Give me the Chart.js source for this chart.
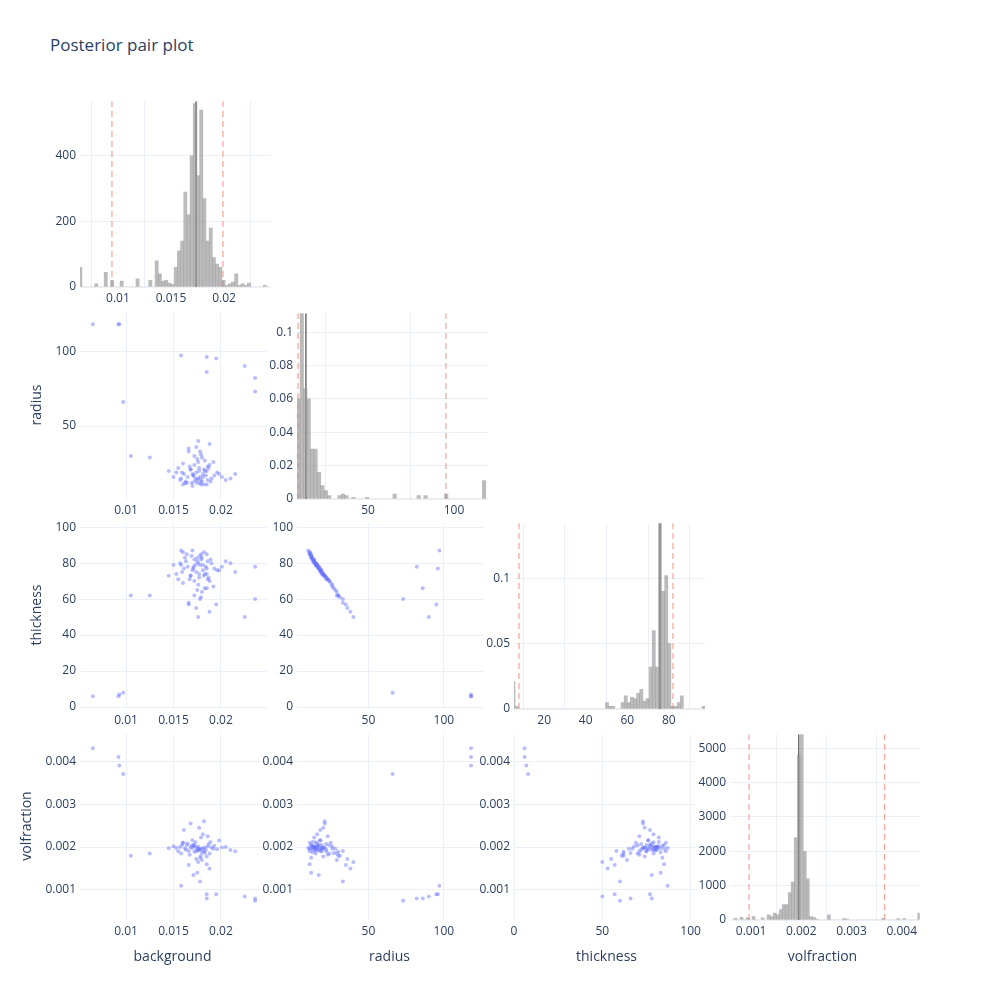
<!DOCTYPE html>
<html>
<head>
<meta charset="utf-8">
<script src="https://cdn.jsdelivr.net/npm/chart.js@4"></script>
<style>
body{margin:0;background:#fff;font-family:"Open Sans",Arial,sans-serif;color:#2a3f5f;}
#page{position:relative;width:1000px;height:1000px;}
.panel{position:absolute;}
.lbl{position:absolute;font-size:14px;white-space:nowrap;}
</style>
</head>
<body>
<div id="page">
  <div class="lbl" style="left:50px;top:33px;font-size:17px;">Posterior pair plot</div>
</div>
<script>
const params = ['background', 'radius', 'thickness', 'volfraction'];

// posterior samples (one entry per sample)
const background = [.0065,.0092,.0093,.0097,.0158,.0185,.0185,.0195,.0225,.0236,.0236,.0105,.0125,
 .0175,.0178,.0172,.0181,.0169,.0176,.0183,.0171,.0179,.0174,.0186,.0165,.0177,.0180,.0168,.0173,.0184,.0162,.0188,.0170,
 .0176,.0182,.0159,.0190,.0167,.0175,.0179,.0185,.0163,.0172,.0193,.0160,.0178,.0187,.0166,.0181,.0157,.0196,.0174,.0170,
 .0183,.0161,.0189,.0176,.0168,.0201,.0155,.0179,.0185,.0172,.0198,.0158,.0188,.0177,.0164,.0192,.0171,.0205,.0153,.0180,
 .0186,.0166,.0210,.0150,.0175,.0182,.0215,.0145,.0178,.0160];
const radius = [118,118,118,66,97,96,86,95,90,82,73,30,29,
 14,16,13,18,12,15,20,17,11,19,14,16,22,13,21,15,17,12,24,18,
 26,11,19,15,23,28,14,20,13,30,17,25,12,22,33,16,14,19,36,10,
 27,18,13,40,21,16,22,31,11,24,18,15,38,20,12,26,17,14,19,29,
 23,35,15,16,12,21,18,20,33,11];
const thickness = [6,6,7,8,87,77,66,57,50,78,60,62,62,
 81,79,82,76,84,80,74,77,85,75,81,78,72,83,73,79,78,83,70,76,
 68,86,75,80,71,65,82,74,81,62,77,69,84,72,58,79,80,76,55,87,
 66,77,82,50,73,78,71,61,85,70,76,79,53,74,85,67,78,81,74,64,
 71,57,80,79,83,73,75,73,60,86];
const volfraction = [.0043,.0041,.0039,.0037,.0011,.0009,.0008,.0009,.00085,.0008,.00075,.0018,.00185,
 .00198,.00195,.00201,.00197,.00203,.00192,.00199,.00205,.00196,.00190,.00202,.00208,.00194,.00188,.00199,.00211,.00193,.00197,.00185,.00216,
 .00201,.00190,.00205,.00199,.00182,.00196,.00222,.00178,.00194,.00189,.00203,.00210,.00175,.00207,.00191,.00230,.00200,.00195,.00172,.00198,
 .00186,.00240,.00212,.00165,.00255,.00199,.00190,.00180,.00160,.00204,.00215,.00185,.00150,.00245,.00205,.00196,.00135,.00200,.00198,.00170,
 .00225,.00158,.00193,.00202,.00140,.00260,.00190,.00197,.00120,.00210];

// histogram bins (start, width, heights)
const bgBinStart = 0.0063, bgBinWidth = 0.0003;
const bgCounts = [60,0,0,0,0,10,0,0,45,0,20,0,0,18,0,0,0,0,25,0,0,0,20,0,80,40,18,20,12,8,
 60,110,140,290,220,400,560,340,540,270,140,180,90,70,60,20,5,10,15,40,5,10,5,12,0,0,0,0,5,0];
const radBinStart = 8.5, radBinWidth = 2;
const radDensity = [0.06,0.112,0.066,0.06,0.03,0.03,0.016,0.008,0.005,0.002,0,0,0.002,0.003,0.002,0,0.001,0,0,0,
 0.001,0,0,0,0,0,0,0,0.003,0,0,0,0,0,0,0.002,0,0.002,0,0,0,0,0,0.003,0,0,0,0,0,0,0,0,0,0,0.011,0];
const thkBinStart = 4.5, thkBinWidth = 1.5;
const thkDensity = [0.021,0.002,0,0,0,0,0,0,0,0,0,0,0,0,0,0,0,0,0,0,0,0,0,0,0,0,0,0,0,0,
 0.005,0.002,0.002,0,0,0.005,0.01,0.005,0.009,0.008,0.012,0.015,0.006,0.008,0.032,0.06,0.032,0.142,0.09,0.102,
 0.05,0.002,0.002,0.005,0.01,0,0,0,0,0,0,0.002];
const volBinStart = 0.0006, volBinWidth = 0.00006;
const volCounts = [0,50,0,80,0,70,0,100,0,0,60,0,150,100,200,150,300,450,450,800,1100,2400,4800,5400,2000,1200,100,80,30,0,
 0,0,150,0,0,0,0,40,30,0,0,0,0,0,0,0,0,0,0,0,50,0,0,0,0,40,0,40,0,0,0,0,200];

// median and 95% interval markers
const medians = [0.01736, 13.9, 75.7, 0.00195];
const lowQ = [0.00943, 9.3, 7.9, 0.00096];
const highQ = [0.0199, 95.3, 82.0, 0.00366];

// tick labels
const histXTicks = [[0.01, 0.015, 0.02], [50, 100], [20, 40, 60, 80], [0.001, 0.002, 0.003, 0.004]];
const scatXTicks = [[0.01, 0.015, 0.02], [50, 100], [0, 50, 100]];
const scatYTicks = [null, [50, 100], [0, 20, 40, 60, 80, 100], [0.001, 0.002, 0.003, 0.004]];
const histYTicks = [[0, 200, 400], [0, 0.02, 0.04, 0.06, 0.08, 0.1], [0, 0.05, 0.1], [0, 1000, 2000, 3000, 4000, 5000]];

const samples = [background, radius, thickness, volfraction];
const hists = [
  [bgBinStart, bgBinWidth, bgCounts],
  [radBinStart, radBinWidth, radDensity],
  [thkBinStart, thkBinWidth, thkDensity],
  [volBinStart, volBinWidth, volCounts]
];

// layout
const colLeft = [80, 297, 514, 730], rowTop = [100, 312, 522, 733];
const plotW = 191, plotH = 187, padL = 45, padB = 22, padT = 10;
const histRange = [[0.00642, 0.02443], [8.7, 119.8], [5.5, 97.4], [0.00058, 0.00436]];
const histTop = [567, 0.1114, 0.142, 5407];
const scatRange = [[0.00515, 0.02485], [2.6, 126.6], [0, 102.7], [0.0003, 0.00463]];
const scatYRange = [null, [1.3, 125.3], [-1.1, 102.2], [0.0003, 0.00463]];

const textColor = '#2a3f5f', gridColor = '#EBF0F8';

function fmt(v) { return String(+v.toPrecision(6)); }

function axis(min, max, ticks, fit) {
  return {
    type: 'linear', min: min, max: max, offset: false,
    border: { display: false },
    grid: { color: gridColor, drawTicks: false },
    ticks: { color: textColor, font: { size: 12, family: 'Open Sans' }, padding: 4, autoSkip: false,
      maxRotation: 0, callback: v => fmt(v) },
    afterBuildTicks: s => { s.ticks = ticks.map(v => ({ value: v })); },
    afterFit: fit
  };
}

function makePanel(row, col) {
  const div = document.createElement('div');
  div.className = 'panel';
  div.style.left = (colLeft[col] - padL) + 'px';
  div.style.top = (rowTop[row] - padT) + 'px';
  div.style.width = (plotW + padL) + 'px';
  div.style.height = (plotH + padB + padT) + 'px';
  const cv = document.createElement('canvas');
  div.appendChild(cv);
  document.getElementById('page').appendChild(div);
  return cv;
}

const fitY = s => { s.width = padL; };
const fitX = s => { s.height = padB; };

function vline(x, top, color, dash) {
  return { type: 'line', data: [{ x: x, y: 0 }, { x: x, y: top }], borderColor: color, borderWidth: 1.3,
    borderDash: dash, pointRadius: 0, fill: false };
}

for (let row = 0; row < 4; row++) {
  for (let col = 0; col <= row; col++) {
    const cv = makePanel(row, col);
    let cfg;
    if (row === col) {
      const [start, width, h] = hists[col];
      const bars = h.map((y, i) => ({ x: start + width * (i + 0.5), y: y }));
      const top = histTop[col];
      cfg = {
        type: 'bar',
        data: { datasets: [
          { type: 'bar', data: bars, backgroundColor: 'rgba(150,150,150,0.65)', barPercentage: 1, categoryPercentage: 1 },
          vline(medians[col], top, '#555', []),
          vline(lowQ[col], top, 'rgba(239,85,59,0.5)', [6, 4]),
          vline(highQ[col], top, 'rgba(239,85,59,0.5)', [6, 4])
        ] },
        options: { scales: {
          x: axis(histRange[col][0], histRange[col][1], histXTicks[col], fitX),
          y: axis(0, top, histYTicks[col], fitY)
        } }
      };
    } else {
      const pts = samples[col].map((v, i) => ({ x: v, y: samples[row][i] }));
      cfg = {
        type: 'scatter',
        data: { datasets: [{ data: pts, backgroundColor: 'rgba(99,110,250,0.45)', borderWidth: 0, pointRadius: 2 }] },
        options: { scales: {
          x: axis(scatRange[col][0], scatRange[col][1], scatXTicks[col], fitX),
          y: axis(scatYRange[row][0], scatYRange[row][1], scatYTicks[row], fitY)
        } }
      };
    }
    cfg.options.responsive = true;
    cfg.options.maintainAspectRatio = false;
    cfg.options.animation = false;
    cfg.options.layout = { padding: 0 };
    cfg.options.plugins = { legend: { display: false }, tooltip: { enabled: false } };
    new Chart(cv, cfg);
  }
}

// axis titles
const page = document.getElementById('page');
function label(text, x, y, rot) {
  const d = document.createElement('div');
  d.className = 'lbl';
  d.textContent = text;
  d.style.left = x + 'px';
  d.style.top = y + 'px';
  d.style.transform = 'translate(-50%,-50%)' + (rot ? ' rotate(-90deg)' : '');
  page.appendChild(d);
}
params.forEach((p, i) => label(p, colLeft[i] + plotW / 2 - 3, 955, false));
label('radius', 35, 405, true);
label('thickness', 35, 615, true);
label('volfraction', 25, 826, true);
</script>
</body>
</html>
